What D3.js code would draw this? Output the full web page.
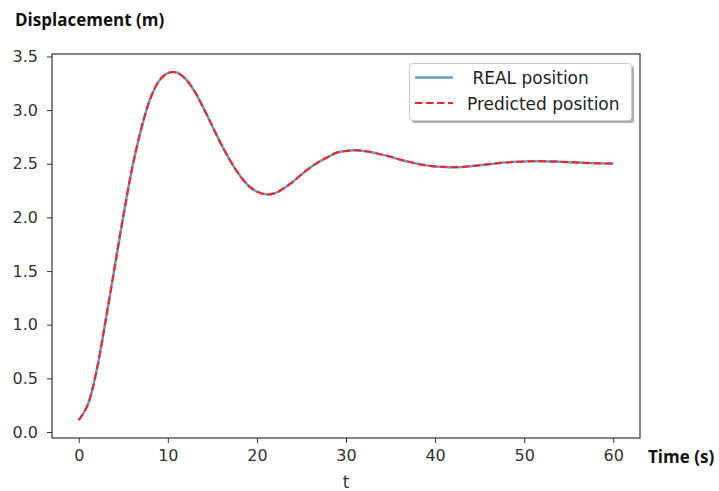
<!DOCTYPE html>
<html><head><meta charset="utf-8">
<script src="https://cdn.jsdelivr.net/npm/d3@7"></script>
<style>body{margin:0;background:#fff}svg{display:block}</style>
</head><body>
<script>
const timeS = [0,1,2,3,4,5,6,7,8,9,10,11,12,13,14,15,16,17,18,19,20,21,22,23,24,25,26,27,28,29,30,31,32,33,34,35,36,37,38,39,40,41,42,43,44,45,46,47,48,49,50,51,52,53,54,55,56,57,58,59,60];
const realPos = [0.11,0.25,0.57,1.03,1.52,2.01,2.46,2.82,3.10,3.27,3.345,3.35,3.29,3.175,3.02,2.85,2.68,2.53,2.40,2.30,2.24,2.215,2.225,2.27,2.33,2.40,2.465,2.52,2.565,2.605,2.62,2.625,2.62,2.605,2.585,2.565,2.54,2.52,2.50,2.485,2.475,2.47,2.468,2.47,2.477,2.486,2.495,2.505,2.512,2.518,2.522,2.524,2.524,2.522,2.519,2.515,2.511,2.508,2.505,2.503,2.502];
const predPos = realPos.slice();
const xTicks = [0,10,20,30,40,50,60];
const yTicks = [0,0.5,1,1.5,2,2.5,3,3.5];
const seriesNames = [" REAL position","Predicted position"];

const W=719,H=491;
const svg=d3.select("body").append("svg").attr("width",W).attr("height",H);
const L=52,R=640,T=54,B=438;
const x=d3.scaleLinear().domain([-3,63]).range([L,R]);
const y=d3.scaleLinear().domain([-0.056,3.523]).range([B,T]);
const tickFont='"DejaVu Sans", sans-serif';

const xa=svg.append("g").attr("transform",`translate(0,${B})`)
  .call(d3.axisBottom(x).tickValues(xTicks).tickFormat(d3.format("d")).tickSize(5).tickPadding(7));
const ya=svg.append("g").attr("transform",`translate(${L},0)`)
  .call(d3.axisLeft(y).tickValues(yTicks).tickFormat(d3.format(".1f")).tickSize(5).tickPadding(9));
[xa,ya].forEach(g=>{
  g.select(".domain").remove();
  g.selectAll("line").attr("stroke","#333");
  g.selectAll("text").attr("font-family",tickFont).attr("font-size",16).attr("fill","#333");
});

const line=d3.line().x((d,i)=>x(timeS[i])).y(d=>y(d)).curve(d3.curveCatmullRom);
svg.append("path").datum(realPos).attr("d",line).attr("fill","none")
  .attr("stroke","#629fca").attr("stroke-width",2.5);
svg.append("path").datum(predPos).attr("d",line).attr("fill","none")
  .attr("stroke","#ff2020").attr("stroke-width",2).attr("stroke-dasharray","7.5,3.5");

svg.append("rect").attr("x",L).attr("y",T).attr("width",R-L).attr("height",B-T)
  .attr("fill","none").attr("stroke","#333").attr("stroke-width",1.2);

// legend
const lg=svg.append("g");
lg.append("rect").attr("x",412).attr("y",66).attr("width",222).attr("height",57).attr("rx",3)
  .attr("fill","#999").attr("opacity",0.8);
lg.append("rect").attr("x",409.5).attr("y",63.5).attr("width",222).attr("height",57).attr("rx",3)
  .attr("fill","#fff").attr("stroke","#ccc");
lg.append("line").attr("x1",415).attr("x2",453).attr("y1",77.5).attr("y2",77.5)
  .attr("stroke","#629fca").attr("stroke-width",2.5);
lg.append("line").attr("x1",415).attr("x2",453).attr("y1",103).attr("y2",103)
  .attr("stroke","#ff2020").attr("stroke-width",2).attr("stroke-dasharray","7.5,3.5");
lg.selectAll("text.lt").data(seriesNames).join("text")
  .attr("x",467).attr("y",(d,i)=>84+i*26)
  .attr("font-family",tickFont).attr("font-size",17).attr("fill","#222")
  .attr("xml:space","preserve").style("white-space","pre").text(d=>d);

svg.append("text").attr("x",15).attr("y",26).text("Displacement (m)")
  .attr("font-family",'"Open Sans", sans-serif').attr("font-weight","bold").attr("font-size",17).attr("fill","#111");
svg.append("text").attr("x",648).attr("y",463).text("Time (s)")
  .attr("font-family",'"Open Sans", sans-serif').attr("font-weight","bold").attr("font-size",17).attr("fill","#111");
svg.append("text").attr("x",x(30)).attr("y",488).attr("text-anchor","middle").text("t")
  .attr("font-family",tickFont).attr("font-size",17).attr("fill","#333");
</script>
</body></html>
